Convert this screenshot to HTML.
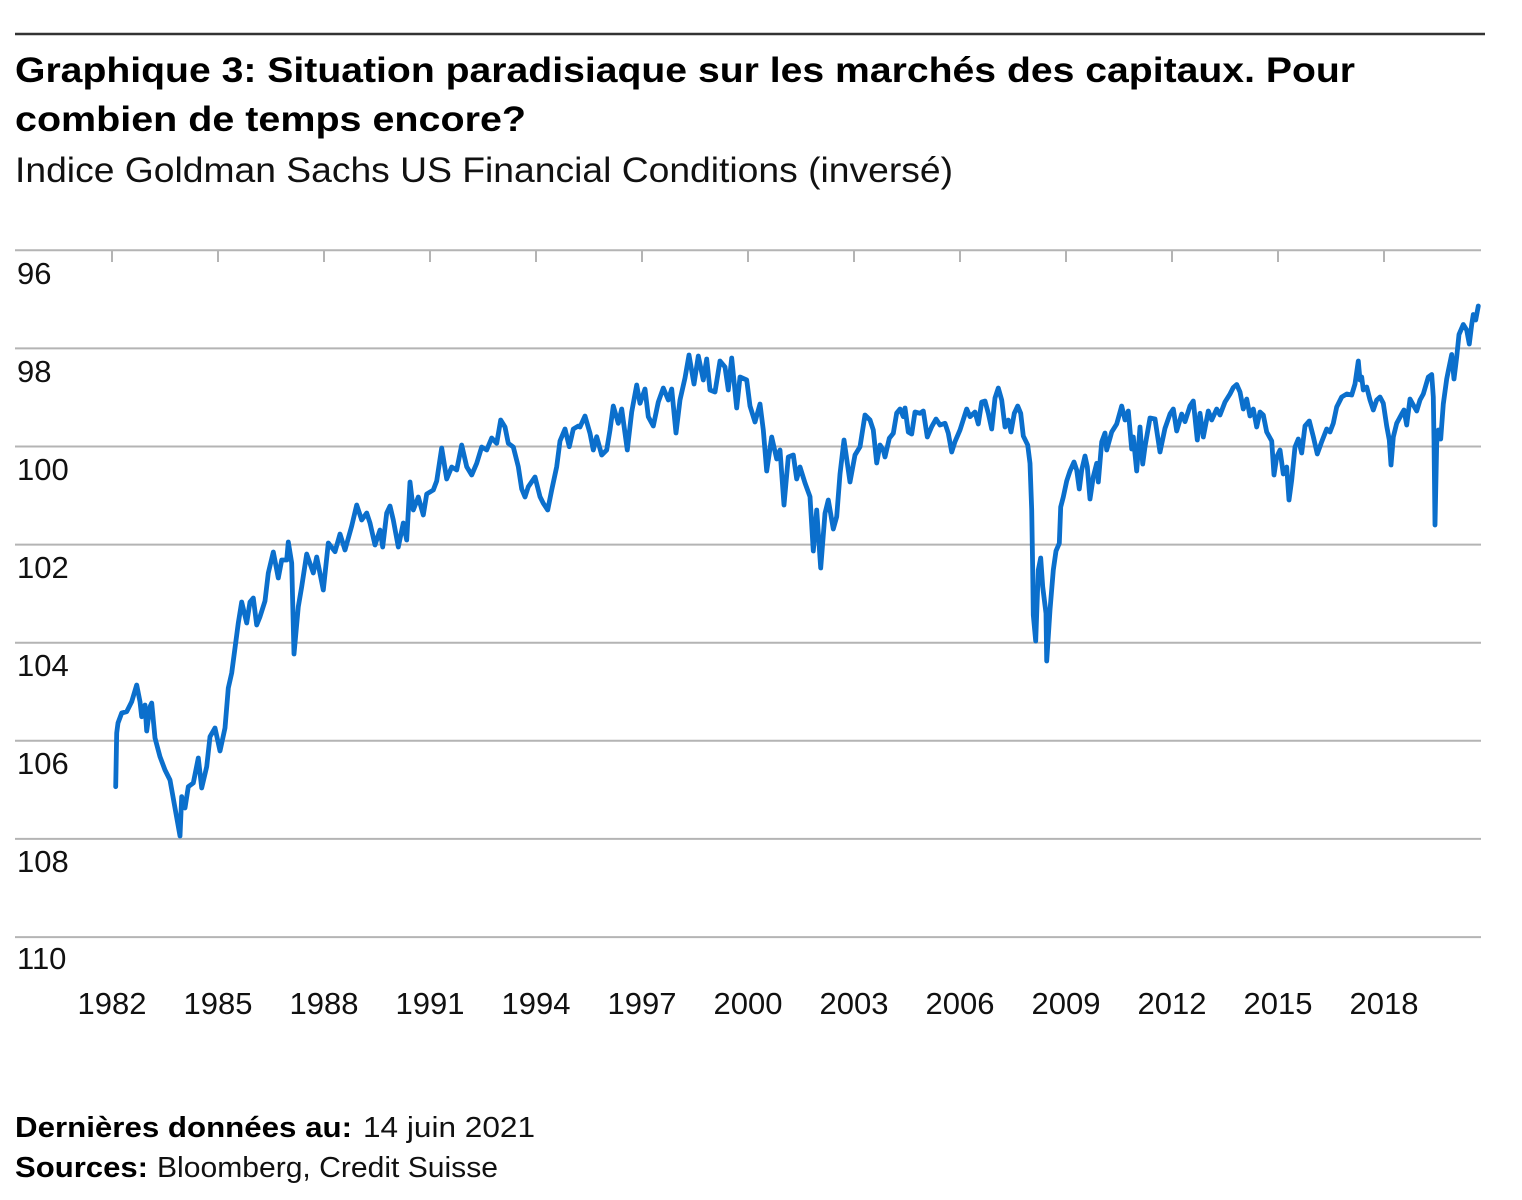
<!DOCTYPE html>
<html>
<head>
<meta charset="utf-8">
<style>
  html, body { margin:0; padding:0; background:#fff; }
  svg { display:block; }
  text { font-family: "Liberation Sans", "DejaVu Sans", sans-serif; }
</style>
</head>
<body>
<svg width="1522" height="1200" viewBox="0 0 1522 1200" xmlns="http://www.w3.org/2000/svg">
  <rect width="1522" height="1200" fill="#fff"/>
  <!-- top rule -->
  <line x1="15" y1="34" x2="1485" y2="34" stroke="#333" stroke-width="2.5"/>

  <!-- titles -->
  <text x="15" y="82" font-size="35" font-weight="bold" fill="#000" textLength="1340" lengthAdjust="spacingAndGlyphs">Graphique 3: Situation paradisiaque sur les marchés des capitaux. Pour</text>
  <text x="15" y="131" font-size="35" font-weight="bold" fill="#000" textLength="511" lengthAdjust="spacingAndGlyphs">combien de temps encore?</text>
  <text x="15" y="182" font-size="35" fill="#111" textLength="938" lengthAdjust="spacingAndGlyphs">Indice Goldman Sachs US Financial Conditions (inversé)</text>

  <!-- gridlines -->
  <g stroke="#b4b4b4" stroke-width="2">
    <line x1="15" y1="250.3" x2="1481" y2="250.3"/>
    <line x1="15" y1="348.4" x2="1481" y2="348.4"/>
    <line x1="15" y1="446.5" x2="1481" y2="446.5"/>
    <line x1="15" y1="544.6" x2="1481" y2="544.6"/>
    <line x1="15" y1="642.7" x2="1481" y2="642.7"/>
    <line x1="15" y1="740.8" x2="1481" y2="740.8"/>
    <line x1="15" y1="838.9" x2="1481" y2="838.9"/>
    <line x1="15" y1="937.1" x2="1481" y2="937.1"/>
  </g>
  <!-- ticks -->
  <g stroke="#b4b4b4" stroke-width="2">
    <line x1="112" y1="250" x2="112" y2="262"/>
    <line x1="218" y1="250" x2="218" y2="262"/>
    <line x1="324" y1="250" x2="324" y2="262"/>
    <line x1="430" y1="250" x2="430" y2="262"/>
    <line x1="536" y1="250" x2="536" y2="262"/>
    <line x1="642" y1="250" x2="642" y2="262"/>
    <line x1="748" y1="250" x2="748" y2="262"/>
    <line x1="854" y1="250" x2="854" y2="262"/>
    <line x1="960" y1="250" x2="960" y2="262"/>
    <line x1="1066" y1="250" x2="1066" y2="262"/>
    <line x1="1172" y1="250" x2="1172" y2="262"/>
    <line x1="1278" y1="250" x2="1278" y2="262"/>
    <line x1="1384" y1="250" x2="1384" y2="262"/>
  </g>

  <!-- y labels -->
  <g font-size="31" fill="#111">
    <text x="17" y="284">96</text>
    <text x="17" y="382">98</text>
    <text x="17" y="480">100</text>
    <text x="17" y="578">102</text>
    <text x="17" y="676">104</text>
    <text x="17" y="774">106</text>
    <text x="17" y="872">108</text>
    <text x="17" y="969">110</text>
  </g>

  <!-- x labels -->
  <g font-size="31" fill="#111" text-anchor="middle">
    <text x="112" y="1014">1982</text>
    <text x="218" y="1014">1985</text>
    <text x="324" y="1014">1988</text>
    <text x="430" y="1014">1991</text>
    <text x="536" y="1014">1994</text>
    <text x="642" y="1014">1997</text>
    <text x="748" y="1014">2000</text>
    <text x="854" y="1014">2003</text>
    <text x="960" y="1014">2006</text>
    <text x="1066" y="1014">2009</text>
    <text x="1172" y="1014">2012</text>
    <text x="1278" y="1014">2015</text>
    <text x="1384" y="1014">2018</text>
  </g>

  <!-- series -->
  <polyline fill="none" stroke="#0b6fcc" stroke-width="4.8" stroke-linejoin="round" stroke-linecap="round" points="
115.7,786.7 116.7,733 118,723 121.7,713 126.7,711.7 131.7,701.7 136.7,685 140,701.7 141.7,716.7 145,705 146.7,731 150,706.7 151.7,703 155,738 160,756.7 165,770 170,780 175,808 180,836 181.7,796.7 185,808 188.3,786.7 193.3,783 198.3,758 201.7,788 206.7,766.7 210,736.7 215,728 220,751 225,728 228.3,688 231.7,673 235,648 238.3,623 241.7,602 246.7,623 250,602 253.3,598 256.7,625 260,616.7 265,601 268.3,573 273.3,552 278.3,578 281.7,560 286.7,560 288.3,542 291.7,563
294,654 298.3,606.7 301.7,586.7 306.7,554 313.3,573 316.7,557 323.3,590 328.3,543 335,551.7 340,534 345,550 351.7,526 356.7,505 361.7,520 366.7,513 370,523 375,545 380,530 382.7,547 386.7,513 390,506 393.3,520 398.3,547 403.3,523 406.7,540 410,482 413.3,510 418.3,497 423.3,515 426.7,494 433.3,490 436.7,481 441.7,448 446.7,479 451.7,467 456.7,470 461.7,445 466.7,466.7 471.7,475 476.7,463.3 481.7,447 486.7,450 491.7,438 496.7,443.3 500.7,420 505,427 508.3,443.3 513.3,447 518.3,466.7 521.7,489 525,497 528.3,486.7 535,477 540,496.7 543.3,503.3 547.7,510 551.7,490 556.7,466.7 560,441 565,429 569.3,446.7 573.3,429 578.3,426
580,427 585,416 590,433.3 593.3,450 596.7,436.7 601.7,455 606.7,450 610,430 613.3,406 618.3,423.3 621.7,409 627.3,450 631.7,412 636.7,385 640,403.3 645,389 648.3,416.7 653.3,426 658.3,402 663.3,388 668.3,400 671.7,389 676,433 680,400 685,378 689,355 694,384 698.3,356 703.3,380 706.7,359 710,390 715,392 720,361 725,367 728.3,390 731.7,358 736.7,408 740,377 746.7,380 750,406 755,422 760,404 763.3,430 766.7,471 771.7,437 776.7,459 780,450 784,505 788.3,457 793.3,455 796.7,479 800,467 805,483 810,496.7 813.3,551 816.7,510 820.7,568 825,513.3 828.3,500 833.3,529 836.7,516.7 840,474 844,440 850,482 855,455
860,446.7 865,415 870,420 873.3,430 876.7,463 880,445 883.3,450 885,457 889.3,438.3 893.3,433.3 896.7,413 900,409 903.3,416.7 905,408 908.3,432 911.7,434 915,412 920,413.3 923.3,411 927.3,437 931.7,426.7 936,419 940,425 945,423.3 948.3,433.3 951.7,452 955,441.7 960,430 966.7,409 970,416.7 975,412 978.3,424 981.7,402 985,401 988.3,413.3 991.7,429 995,398 998.3,388 1001.7,400 1005,427 1008.3,420 1011,432 1014.3,413.3 1017.7,406 1020.7,413.3 1023.3,436 1027.7,445 1030,463.3 1031.7,510 1032.7,570 1033.3,615 1035.7,641 1038.3,570 1040.7,558 1042.7,586.7 1046,613.3 1046.7,661 1050,610 1053.3,570 1056,551 1059.3,543.3 1060.7,507 1063.3,497 1066.7,481 1070,471 1074,462 1076.7,470 1079.3,489 1081.7,470 1085,456 1087.3,466.7 1090,499 1093.3,476.7 1096.7,463.3 1098.3,482 1101.7,442 1105,433
1106.7,450 1111.7,432 1116.7,424 1121.7,406 1125,420 1128.3,411 1131.7,449 1133.3,437 1136.7,471 1140,427 1142.7,464 1145,446.7 1150,418 1155,419 1160,452 1165,428.3 1170,414 1173.3,409 1176.7,431 1181.7,414 1185,421.7 1190,406 1193.3,401 1197.3,440 1200,413.3 1203.3,437 1208.3,411 1211.7,420 1216.7,409 1220,415 1225,402 1230,394 1233.3,387.5 1236.7,384.5 1240,392 1243.3,409 1246.7,399 1250,416 1253.3,409 1256.7,427 1260,412 1263.3,415 1266.7,432 1271.7,441 1274,475 1276.7,457 1280,450 1283.3,474 1286.7,467 1289,500 1291.7,480 1295,447 1298.3,439 1301.7,453 1305,426 1309.3,421 1313.3,436.7 1317.3,454 1321.7,441.7 1326.7,429
1330,432 1333.3,423.3 1336.7,407 1341.7,397 1346.7,394 1351.7,395 1355,384 1358.3,361 1360,380 1361.7,377 1363.3,390 1366.7,387 1370,400 1373.3,410 1376.7,400 1380,397 1383.3,403.3 1386.7,426 1389.3,440 1391,465 1393.3,437 1396.7,423.3 1401.7,414 1404,410 1406.7,425 1410,399 1413.3,405 1416.7,411 1420,400 1423.3,394 1428.3,377 1431.7,374.5 1433.3,397 1434,440 1435,525 1436.7,443.3 1438.3,430 1440.7,439 1443.3,404 1446.7,379 1448.3,371 1451.7,354.5 1454,379 1456.7,357 1459,334.5 1463.3,324.5 1466.7,330 1469.3,344 1471.7,324.5 1473.3,314.5 1475.7,320 1478.3,306"/>

  <!-- footer -->
  <text x="15" y="1137" font-size="29" fill="#000"><tspan font-weight="bold" textLength="337" lengthAdjust="spacingAndGlyphs">Dernières données au:</tspan></text>
  <text x="363" y="1137" font-size="29" fill="#111" textLength="172" lengthAdjust="spacingAndGlyphs">14 juin 2021</text>
  <text x="15" y="1177" font-size="29" font-weight="bold" fill="#000" textLength="133" lengthAdjust="spacingAndGlyphs">Sources:</text>
  <text x="157" y="1177" font-size="29" fill="#111" textLength="341" lengthAdjust="spacingAndGlyphs">Bloomberg, Credit Suisse</text>
</svg>
</body>
</html>
